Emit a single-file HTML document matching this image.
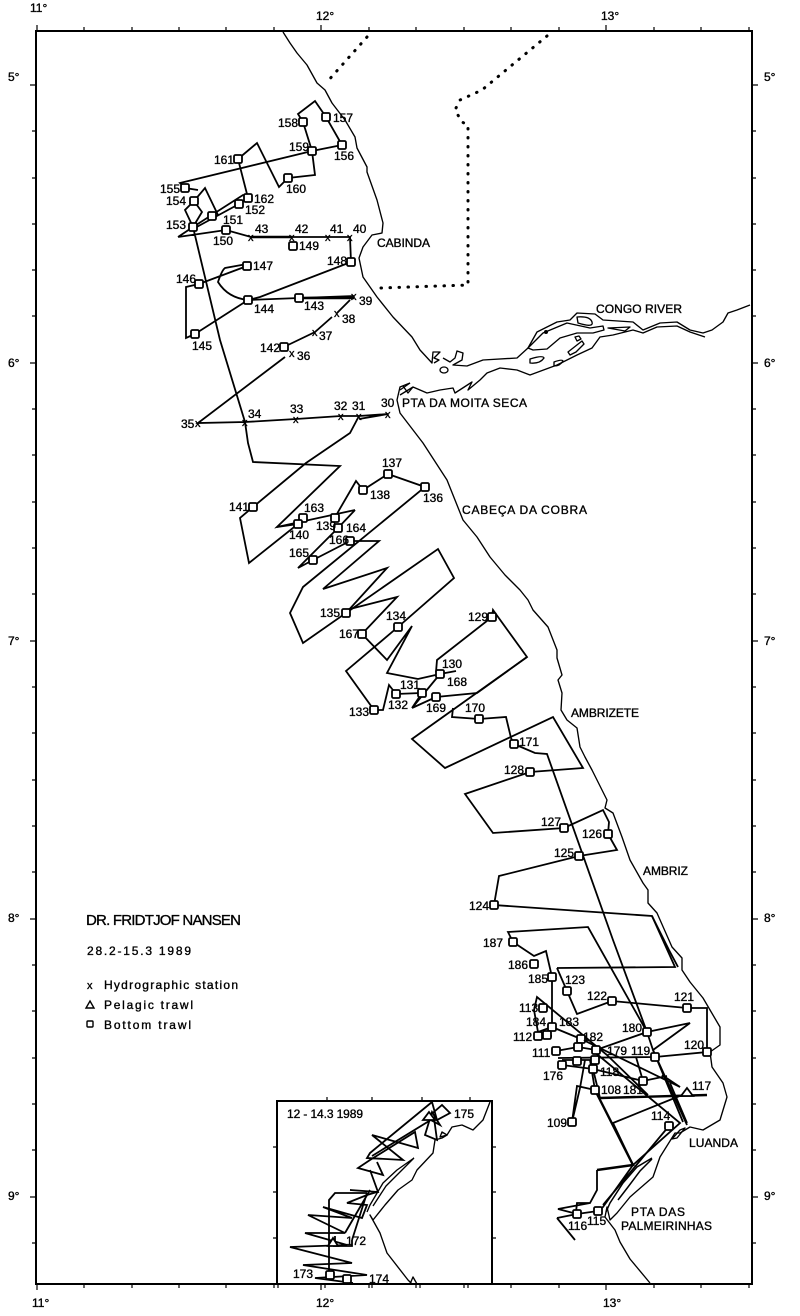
<!DOCTYPE html>
<html><head><meta charset="utf-8"><style>
html,body{margin:0;padding:0;background:#fff}
svg{display:block}
text{font-family:"Liberation Sans",sans-serif;font-size:12px;fill:#000;stroke:#000;stroke-width:.35}
.d{fill:none;stroke:#000;stroke-width:3;stroke-linecap:round;stroke-dasharray:.5 8.5}
.c{fill:none;stroke:#000;stroke-width:1.35;stroke-linejoin:round}
.t{fill:none;stroke:#000;stroke-width:1.8;stroke-linejoin:miter}
.k{fill:none;stroke:#000;stroke-width:2.4}
.s{fill:#fff;stroke:#000;stroke-width:1.8}
</style></head><body>
<svg width="800" height="1316" viewBox="0 0 800 1316" xmlns="http://www.w3.org/2000/svg">
<rect width="800" height="1316" fill="#fff"/>
<defs><rect id="s" class="s" x="-4" y="-4" width="8" height="8" rx="1.5"/></defs>

<!-- frame -->
<path d="M36 31H752V1284H36Z" fill="none" stroke="#000" stroke-width="2"/>
<path d="M37 31v-6M84 31v-4M132 31v-4M179 31v-4M226 31v-4M274 31v-4M321 31v-6M369 31v-4M416 31v-4M464 31v-4M511 31v-4M559 31v-4M606 31v-6M654 31v-4M701 31v-4M749 31v-4
M37 1284v6M84 1284v4M132 1284v4M179 1284v4M226 1284v4M274 1284v4M321 1284v6M369 1284v4M416 1284v4M464 1284v4M511 1284v4M559 1284v4M606 1284v6M654 1284v4M701 1284v4M749 1284v4
M36 85h-6M36 131h-4M36 178h-4M36 224h-4M36 270h-4M36 316h-4M36 363h-6M36 409h-4M36 455h-4M36 502h-4M36 548h-4M36 594h-4M36 641h-6M36 687h-4M36 733h-4M36 780h-4M36 826h-4M36 872h-4M36 919h-6M36 965h-4M36 1011h-4M36 1058h-4M36 1104h-4M36 1150h-4M36 1197h-6M36 1243h-4
M752 85h6M752 131h4M752 178h4M752 224h4M752 270h4M752 316h4M752 363h6M752 409h4M752 455h4M752 502h4M752 548h4M752 594h4M752 641h6M752 687h4M752 733h4M752 780h4M752 826h4M752 872h4M752 919h6M752 965h4M752 1011h4M752 1058h4M752 1104h4M752 1150h4M752 1197h6M752 1243h4" stroke="#000" stroke-width="1.2" fill="none"/>
<text x="30" y="12">11°</text><text x="316" y="20">12°</text><text x="601" y="20">13°</text>
<text x="32" y="1307">11°</text><text x="316" y="1307">12°</text><text x="603" y="1307">13°</text>
<text x="8" y="81">5°</text><text x="8" y="367">6°</text><text x="8" y="645">7°</text><text x="8" y="922">8°</text><text x="8" y="1200">9°</text>
<text x="764" y="81">5°</text><text x="764" y="367">6°</text><text x="764" y="645">7°</text><text x="764" y="922">8°</text><text x="764" y="1200">9°</text>

<!-- borders -->
<path class="d" d="M367 37L327 82"/>
<path class="d" d="M547 36L482 90L460 100L455 110L462 122L468 125V285L380 288"/>

<!-- coast -->
<path class="c" d="M283 32L290 43L297 53L307 65L317 83L325 90L332 103L345 120L355 137L357 148L367 167L367 172L377 200L383 223L382 233L372 235L363 247L359 258L363 277L377 297L393 317L412 337L420 350L432 363L433 352L440 352L434 358L439 360L434 363M443 358L450 362L455 358L457 351L463 353L462 360L453 365L467 366L483 360L517 358L528 348L537 332L557 322L570 320L577 313L595 314L603 320L633 322L643 330L660 323L677 322L690 330L703 333L712 330L723 322L728 313L737 310L750 305"/>
<path class="c" d="M705 337L690 332L677 326L657 327L643 333L633 330L613 335L600 337L592 348L577 355L557 365L530 375L517 370L500 368L487 373L480 380L468 390L472 382L455 393L453 388L440 390L427 393L413 387L400 395"/>
<path class="c" d="M528 348L543 333L567 323L590 328L603 326L604 330L593 333L577 333L560 338L547 349L533 350L528 348Z"/>
<ellipse cx="444" cy="370" rx="4" ry="3" class="c"/>
<circle cx="546" cy="332" r="2" fill="#000"/>
<path class="c" d="M577 317Q590 316 592 322T578 323Z M530 359Q543 355 544 358Q540 364 530 363Z M554 362Q562 359 563 361Q560 366 554 366Z M568 352L582 341L584 344L576 352L570 355Z M575 337l4 -1l2 3l-4 2Z M608 328L630 327L625 331Z"/>
<path class="c" d="M410 383L400 387L397 400L400 413L423 443L447 480L463 520L477 537L490 557L505 575L520 590L528 600L533 610L548 627L557 650L557 658L562 675L558 680L562 693L561 710L567 720L577 728L580 747L585 757L592 770L607 800L605 808L613 813L622 837L630 860L643 883L648 890L648 903L657 913L672 947L682 958L682 970L690 982L703 998L720 1027L720 1045L710 1052L712 1067L723 1083L727 1097L720 1120L703 1130L690 1127L680 1133L675 1133L660 1157L653 1177L630 1197L617 1213L610 1220L607 1207L605 1217L615 1230L620 1242L630 1259L650 1283"/>
<path class="c" d="M410 383L400 390M403 386L408 393L413 387"/>
<path class="c" d="M685 1128L677 1138L672 1139L680 1130Z"/>
<path d="M652 1158L637 1167L623 1183L610 1203L606 1212M652 1159L640 1171L628 1187L618 1200" fill="none" stroke="#000" stroke-width="1.5"/>

<!-- tracks north -->
<path class="t" d="M342 145L326 117L315 101L298 114L303 122L312 151L315 175L288 178L279 187L257 143L238 159L248 198"/>
<path class="t" d="M342 145L312 151L180 183L185 188L198 190"/>
<path class="t" d="M194 201L185 210L193 227L202 212L194 201L205 188L218 215"/>
<path class="t" d="M193 227L243 195L248 198M193 229L239 204"/>
<path class="t" d="M178 237L226 230L251 237L292 237L328 237L350 237L351 262L260 297L248 300Q228 298 218 282Q222 270 225 268L247 264M247 266L199 284L186 287L186 338L195 334L248 300L299 298L354 296M350 300L337 313M332 317L315 332L288 345M285 357L198 423L245 422L296 419L341 416L359 416L388 414L359 419M178 237L193 227L220 340L245 422L248 443L253 462L340 466L277 527L355 510"/>
<path class="k" d="M251 237H292M299 298H354"/>
<path class="t" d="M359 416L350 433L306 463L253 507L240 518L249 563L298 524L277 527"/>

<!-- tracks mid -->
<path class="t" d="M335 518L338 512L356 481L363 490L388 474L425 487L303 587L290 613L303 643L346 613L387 568L323 589L379 541L350 541L313 560L298 568L338 528L355 510"/>
<path class="t" d="M346 610L397 597L362 634L387 660L412 626L387 673L418 679L440 674L456 671"/>
<path class="t" d="M346 613L438 549L454 578L398 627L346 671L374 710L383 710L389 685L396 694L422 693L412 708L440 674M412 708L436 697L477 693L527 657L493 610L492 617L437 660L436 672"/>
<path class="t" d="M527 657L412 739L445 768L553 717L583 768L530 772L465 794L493 833L564 828L603 810L609 822L608 834L617 850L579 856L499 876L494 905L652 916L675 967L557 968"/>
<path class="t" d="M453 708L452 717L479 719L506 717L511 738L514 744L535 753L547 754L613 940L647 1032L653 1050L687 1125"/>
<path class="t" d="M652 916L669 950L678 967"/>

<!-- tracks south -->
<path class="t" d="M513 942L508 932L588 927L647 1032L690 1023L653 1050"/>
<path class="t" d="M513 942L534 956L546 951L552 977V1027L538 1032L534 1010L537 997L607 1055L648 1095"/>
<path class="t" d="M557 968L567 991L577 1014L612 1001L687 1008H707V1052L655 1057L558 1058"/>
<path class="t" d="M556 1051L578 1047L596 1050L647 1032M552 1027L581 1039L680 1087M538 1036H552M562 1065L593 1069L643 1081L667 1076M562 1060L595 1060"/>
<path class="t" d="M592 1050L680 1123L633 1165M636 1057L643 1081M670 1083L687 1123M653 1050L683 1122M680 1087L662 1075"/>
<path class="t" d="M595 1090L577 1086L572 1122L580 1088L585 1060M595 1090L590 1060M593 1069L600 1098"/>
<path class="k" d="M600 1098L707 1095"/>
<path class="t" d="M687 1093L613 1123L633 1165"/>
<path class="k" d="M595 1090L633 1165L597 1170"/>
<path class="t" d="M597 1170V1190L590 1203L577 1203L576 1212M590 1203L558 1209L577 1214L598 1211M557 1218L577 1214M557 1218L575 1240M633 1165L603 1207L598 1211M669 1126L603 1205"/>

<!-- stations -->
<g>
<use href="#s" x="303" y="122"/><use href="#s" x="326" y="117"/><use href="#s" x="342" y="145"/><use href="#s" x="312" y="151"/><use href="#s" x="288" y="178"/><use href="#s" x="238" y="159"/><use href="#s" x="185" y="188"/><use href="#s" x="194" y="201"/><use href="#s" x="248" y="198"/><use href="#s" x="239" y="204"/><use href="#s" x="212" y="216"/><use href="#s" x="193" y="227"/><use href="#s" x="226" y="230"/><use href="#s" x="293" y="246"/><use href="#s" x="351" y="262"/><use href="#s" x="247" y="266"/><use href="#s" x="199" y="284"/><use href="#s" x="248" y="300"/><use href="#s" x="299" y="298"/><use href="#s" x="195" y="334"/><use href="#s" x="284" y="347"/>
<use href="#s" x="253" y="507"/><use href="#s" x="388" y="474"/><use href="#s" x="363" y="490"/><use href="#s" x="425" y="487"/><use href="#s" x="303" y="518"/><use href="#s" x="298" y="524"/><use href="#s" x="335" y="518"/><use href="#s" x="338" y="528"/><use href="#s" x="350" y="541"/><use href="#s" x="313" y="560"/><use href="#s" x="346" y="613"/><use href="#s" x="398" y="627"/><use href="#s" x="362" y="634"/><use href="#s" x="440" y="674"/><use href="#s" x="422" y="693"/><use href="#s" x="396" y="694"/><use href="#s" x="436" y="697"/><use href="#s" x="374" y="710"/><use href="#s" x="479" y="719"/><use href="#s" x="492" y="617"/>
<use href="#s" x="514" y="744"/><use href="#s" x="530" y="772"/><use href="#s" x="564" y="828"/><use href="#s" x="608" y="834"/><use href="#s" x="579" y="856"/><use href="#s" x="494" y="905"/>
<use href="#s" x="513" y="942"/><use href="#s" x="534" y="964"/><use href="#s" x="552" y="977"/><use href="#s" x="567" y="991"/><use href="#s" x="612" y="1001"/><use href="#s" x="687" y="1008"/><use href="#s" x="707" y="1052"/><use href="#s" x="543" y="1008"/><use href="#s" x="552" y="1027"/><use href="#s" x="581" y="1039"/><use href="#s" x="538" y="1036"/><use href="#s" x="547" y="1035"/><use href="#s" x="578" y="1047"/><use href="#s" x="556" y="1051"/><use href="#s" x="647" y="1032"/><use href="#s" x="596" y="1050"/><use href="#s" x="655" y="1057"/><use href="#s" x="562" y="1065"/><use href="#s" x="577" y="1061"/><use href="#s" x="595" y="1060"/><use href="#s" x="593" y="1069"/><use href="#s" x="643" y="1081"/><use href="#s" x="595" y="1090"/><use href="#s" x="669" y="1126"/><use href="#s" x="572" y="1122"/><use href="#s" x="577" y="1214"/><use href="#s" x="598" y="1211"/>
</g>
<path d="M687 1088L693 1096H681Z" class="s"/>

<!-- x stations -->
<g>
<text x="248" y="241" style="font-size:11px">x</text><text x="289" y="241" style="font-size:11px">x</text><text x="325" y="241" style="font-size:11px">x</text><text x="347" y="241" style="font-size:11px">x</text><text x="351" y="300" style="font-size:11px">x</text><text x="334" y="317" style="font-size:11px">x</text><text x="312" y="336" style="font-size:11px">x</text><text x="289" y="357" style="font-size:11px">x</text><text x="195" y="427" style="font-size:11px">x</text><text x="242" y="426" style="font-size:11px">x</text><text x="293" y="423" style="font-size:11px">x</text><text x="338" y="420" style="font-size:11px">x</text><text x="356" y="420" style="font-size:11px">x</text><text x="385" y="418" style="font-size:11px">x</text>
</g>

<!-- numbers -->
<g>
<text x="278" y="127">158</text><text x="333" y="122">157</text><text x="289" y="151">159</text><text x="334" y="160">156</text><text x="214" y="164">161</text><text x="286" y="193">160</text><text x="160" y="193">155</text><text x="166" y="205">154</text><text x="254" y="203">162</text><text x="245" y="214">152</text><text x="223" y="224">151</text><text x="166" y="229">153</text><text x="213" y="245">150</text>
<text x="255" y="233">43</text><text x="295" y="233">42</text><text x="330" y="233">41</text><text x="353" y="233">40</text><text x="299" y="250">149</text><text x="327" y="265">148</text><text x="253" y="270">147</text><text x="176" y="283">146</text><text x="254" y="313">144</text><text x="304" y="310">143</text><text x="359" y="305">39</text><text x="342" y="323">38</text><text x="319" y="340">37</text><text x="192" y="350">145</text><text x="260" y="352">142</text><text x="297" y="360">36</text>
<text x="181" y="428">35</text><text x="248" y="418">34</text><text x="290" y="413">33</text><text x="334" y="410">32</text><text x="352" y="410">31</text><text x="381" y="407">30</text>
<text x="382" y="467">137</text><text x="370" y="499">138</text><text x="423" y="502">136</text><text x="229" y="511">141</text><text x="304" y="512">163</text><text x="316" y="530">139</text><text x="346" y="532">164</text><text x="329" y="544">166</text><text x="289" y="539">140</text><text x="289" y="557">165</text><text x="320" y="617">135</text><text x="386" y="620">134</text><text x="339" y="638">167</text><text x="468" y="621">129</text><text x="442" y="668">130</text><text x="447" y="686">168</text><text x="400" y="689">131</text><text x="388" y="709">132</text><text x="349" y="716">133</text><text x="426" y="712">169</text><text x="465" y="712">170</text>
<text x="519" y="746">171</text><text x="504" y="774">128</text><text x="541" y="826">127</text><text x="582" y="838">126</text><text x="554" y="857">125</text><text x="469" y="910">124</text>
<text x="483" y="947">187</text><text x="508" y="969">186</text><text x="528" y="983">185</text><text x="565" y="984">123</text><text x="587" y="1000">122</text><text x="674" y="1001">121</text><text x="519" y="1012">113</text><text x="526" y="1026">184</text><text x="559" y="1026">183</text><text x="513" y="1041">112</text><text x="583" y="1041">182</text><text x="622" y="1032">180</text><text x="532" y="1057">111</text><text x="607" y="1055">179</text><text x="631" y="1055">119</text><text x="684" y="1049">120</text><text x="543" y="1080">176</text><text x="600" y="1076">118</text><text x="601" y="1094">108</text><text x="623" y="1094">181</text><text x="692" y="1090">117</text><text x="651" y="1120">114</text><text x="547" y="1127">109</text><text x="568" y="1230">116</text><text x="587" y="1225">115</text>
</g>

<!-- places -->
<text x="377" y="247" textLength="53" lengthAdjust="spacing">CABINDA</text>
<text x="596" y="313" textLength="86" lengthAdjust="spacing">CONGO RIVER</text>
<text x="402" y="407" textLength="125" lengthAdjust="spacing">PTA DA MOITA SECA</text>
<text x="462" y="514" textLength="125" lengthAdjust="spacing">CABEÇA DA COBRA</text>
<text x="571" y="717" textLength="68" lengthAdjust="spacing">AMBRIZETE</text>
<text x="643" y="875" textLength="45" lengthAdjust="spacing">AMBRIZ</text>
<text x="689" y="1147" textLength="49" lengthAdjust="spacing">LUANDA</text>
<text x="631" y="1216" textLength="54" lengthAdjust="spacing">PTA DAS</text>
<text x="621" y="1230" textLength="91" lengthAdjust="spacing">PALMEIRINHAS</text>

<!-- legend -->
<text x="86" y="925" textLength="155" lengthAdjust="spacing" style="font-size:15px">DR. FRIDTJOF NANSEN</text>
<text x="87" y="955" textLength="104" lengthAdjust="spacing">28.2-15.3  1989</text>
<text x="87" y="989" style="font-size:11px">x</text>
<text x="104" y="989" textLength="134" lengthAdjust="spacing">Hydrographic station</text>
<path d="M90 1001L94 1008H86Z" fill="none" stroke="#000" stroke-width="1.4"/>
<text x="104" y="1009" textLength="89" lengthAdjust="spacing">Pelagic trawl</text>
<rect x="87" y="1021" width="6" height="6" rx="1" fill="none" stroke="#000" stroke-width="1.4"/>
<text x="104" y="1029" textLength="87" lengthAdjust="spacing">Bottom trawl</text>

<!-- inset -->
<rect x="277" y="1101" width="215" height="183" fill="#fff" stroke="#000" stroke-width="2"/>
<path d="M327 1101v-4M372 1101v-4M422 1101v-4M470 1101v-4M277 1147h-4M277 1192h-4M277 1238h-4M492 1147h4M492 1192h4M492 1238h4M278 1284v4M325 1284v4M372 1284v4M420 1284v4M468 1284v4" stroke="#000" stroke-width="1.2" fill="none"/>
<path class="c" d="M490 1102L483 1120L473 1130L462 1125L452 1127L447 1135L442 1138L435 1140L433 1153L417 1170L412 1180L398 1190L385 1205L373 1220L370 1215L380 1233L387 1253L408 1280L412 1284"/>
<path class="c" d="M414 1158L397 1170L383 1183L370 1205L367 1212M414 1158L399 1173L386 1186L373 1206M447 1135L440 1137L442 1132Z"/>
<path d="M417 1284L413 1277L410 1284" class="c"/>
<path class="t" d="M432 1102L370 1153L367 1158L403 1160L372 1135L418 1148L415 1132L370 1160L358 1168L383 1175L377 1162M370 1170L378 1192L350 1190L377 1192L367 1195L347 1203L367 1205L362 1218L323 1207L352 1218L308 1215L345 1233L305 1233L347 1245L290 1247L352 1263L303 1265L367 1275L315 1278L353 1283"/>
<path class="t" d="M432 1102L437 1120L450 1113L442 1105L427 1118L440 1125L432 1112L425 1135L437 1140L434 1118L372 1156"/>
<path class="t" d="M329 1273V1200L335 1193H367M345 1233L370 1190M352 1240L367 1193M352 1240L352 1246L333 1246M335 1246V1236"/>
<path d="M333 1238L338 1246H328Z" class="s"/>
<use href="#s" x="330" y="1275"/><use href="#s" x="347" y="1279"/>
<path d="M429 1112L435 1120H423Z" class="s"/>
<text x="287" y="1118" textLength="76" lengthAdjust="spacing">12 - 14.3  1989</text>
<text x="454" y="1118">175</text><text x="346" y="1245">172</text><text x="293" y="1278">173</text><text x="369" y="1283">174</text>
</svg>
</body></html>
